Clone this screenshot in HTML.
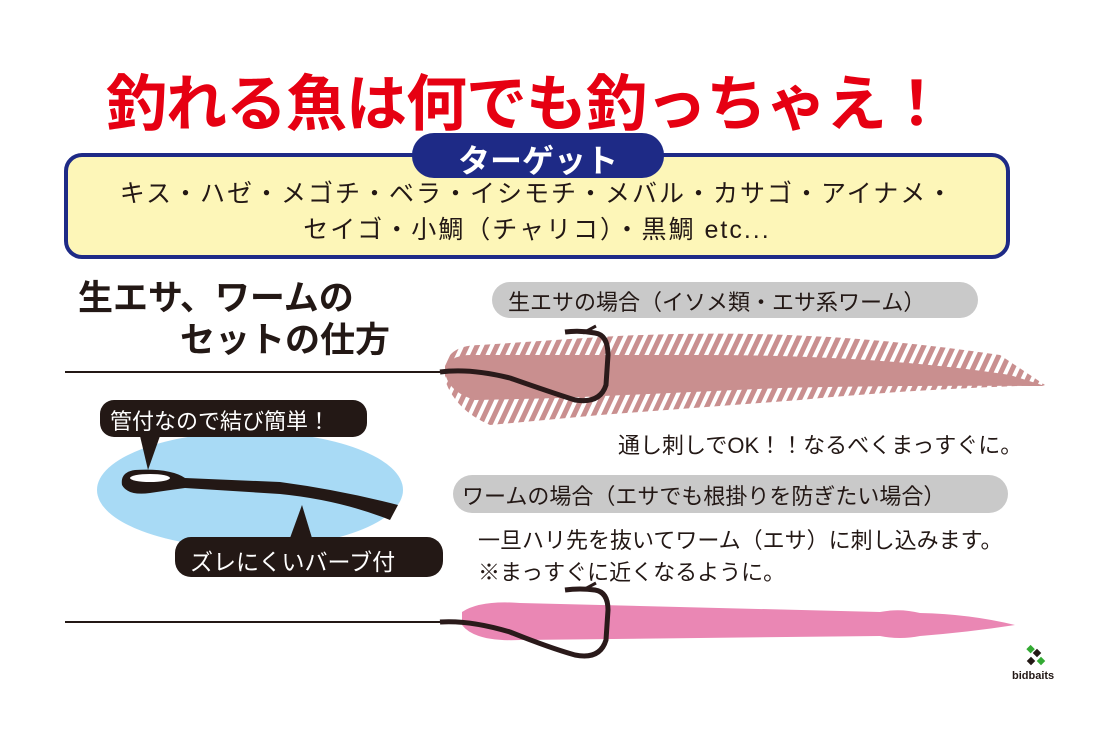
<!DOCTYPE html>
<html><head><meta charset="utf-8"><style>
body{margin:0;width:1100px;height:733px;background:#fff;position:relative;overflow:hidden;font-family:"Liberation Sans","Noto Sans CJK JP",sans-serif;color:#231815}
.a{position:absolute;white-space:nowrap}
</style></head><body>
<svg class="a" style="left:0;top:0" width="1100" height="733">
<defs>
<pattern id="st" width="9" height="20" patternUnits="userSpaceOnUse" patternTransform="rotate(25)">
<rect width="5" height="20" fill="#c98f8f"/></pattern>
</defs>
<rect x="66" y="155" width="942" height="102" rx="16" fill="#fdf6b8" stroke="#1e2a86" stroke-width="4"/>
<rect x="412" y="133" width="252" height="45" rx="22" fill="#1e2a86"/>
<rect x="492" y="282" width="486" height="36" rx="18" fill="#c9c9c9"/>
<rect x="453" y="475" width="555" height="38" rx="19" fill="#c9c9c9"/>
<line x1="65" y1="372" x2="445" y2="372" stroke="#231815" stroke-width="2"/>
<line x1="65" y1="622" x2="445" y2="622" stroke="#231815" stroke-width="2"/>
<path d="M445,365 Q450,345 480,345 L600,337 Q800,325 1000,355 L1045,385 Q900,390 800,400 L600,415 L490,425 Q455,410 445,380 Z" fill="url(#st)"/>
<path d="M445,372 Q448,355 470,355 L700,355 Q880,355 1010,375 L1045,386 Q900,385 780,388 L560,398 L475,400 Q448,392 445,372 Z" fill="#c98f8f"/>
<path d="M440,372 Q470,368 510,378 Q550,392 575,400 Q600,404 606,385 L608,355 Q608,335 595,333 Q580,330 565,332" fill="none" stroke="#2a1a1a" stroke-width="5"/>
<path d="M583,333 L596,326" stroke="#2a1a1a" stroke-width="3"/>
<path d="M462,612 Q480,600 520,603 L880,612 Q900,608 920,613 Q970,614 1015,625 Q970,632 920,636 Q900,640 880,636 L520,640 Q475,642 462,625 Z" fill="#ea87b4"/>
<path d="M440,622 Q470,620 510,632 Q550,648 575,655 Q600,660 606,640 L608,610 Q608,592 595,590 Q580,588 565,590" fill="none" stroke="#2a1a1a" stroke-width="5"/>
<path d="M583,590 L596,583" stroke="#2a1a1a" stroke-width="3"/>
<ellipse cx="250" cy="490" rx="153" ry="58" fill="#a8daf5"/>
<path d="M135,470 Q120,472 122,485 Q128,496 150,493 Q170,490 185,488 L280,494 Q340,500 390,520 L398,505 Q340,490 280,482 L185,478 Q170,468 135,470 Z" fill="#231815"/>
<ellipse cx="150" cy="478" rx="20" ry="4" fill="#fff"/>
<rect x="100" y="400" width="267" height="37" rx="14" fill="#231815"/>
<path d="M140,436 L148,470 L160,436 Z" fill="#231815"/>
<rect x="175" y="537" width="268" height="40" rx="16" fill="#231815"/>
<path d="M290,538 L302,505 L312,538 Z" fill="#231815"/>
<g transform="translate(1032,652)"><rect x="-6" y="-4" width="6" height="6" fill="#3a3" transform="rotate(45)"/><rect x="2" y="-2" width="6" height="6" fill="#231815" transform="rotate(45 5 1)"/><rect x="-4" y="6" width="6" height="6" fill="#231815" transform="rotate(45 -1 9)"/><rect x="6" y="6" width="6" height="6" fill="#3a3" transform="rotate(45 9 9)"/></g>
</svg>
<div class="a" style="left:106px;top:54px;font-size:61px;font-weight:bold;color:#e60012;letter-spacing:-1px">釣れる魚は何でも釣っちゃえ！</div>
<div class="a" style="left:412px;top:136px;width:252px;text-align:center;font-size:32px;font-weight:bold;color:#fff">ターゲット</div>
<div class="a" style="left:66px;top:176px;width:942px;text-align:center;font-size:25px;letter-spacing:2px;line-height:36px">キス・ハゼ・メゴチ・ベラ・イシモチ・メバル・カサゴ・アイナメ・<br>セイゴ・小鯛（チャリコ）・黒鯛 etc...</div>
<div class="a" style="left:78px;top:278px;font-size:35px;font-weight:bold;line-height:42px">生エサ、ワームの</div>
<div class="a" style="left:180px;top:320px;font-size:35px;font-weight:bold;line-height:42px">セットの仕方</div>
<div class="a" style="left:508px;top:285px;font-size:22px">生エサの場合（イソメ類・エサ系ワーム）</div>
<div class="a" style="left:618px;top:428px;font-size:22px">通し刺しでOK！！なるべくまっすぐに。</div>
<div class="a" style="left:462px;top:479px;font-size:22px">ワームの場合（エサでも根掛りを防ぎたい場合）</div>
<div class="a" style="left:478px;top:525px;font-size:22px;line-height:32px">一旦ハリ先を抜いてワーム（エサ）に刺し込みます。<br>※まっすぐに近くなるように。</div>
<div class="a" style="left:110px;top:404px;font-size:22px;color:#fff">管付なので結び簡単！</div>
<div class="a" style="left:190px;top:543px;font-size:23px;color:#fff">ズレにくいバーブ付</div>
<div class="a" style="left:1012px;top:670px;font-size:11px;font-weight:bold">bidbaits</div>
</body></html>
